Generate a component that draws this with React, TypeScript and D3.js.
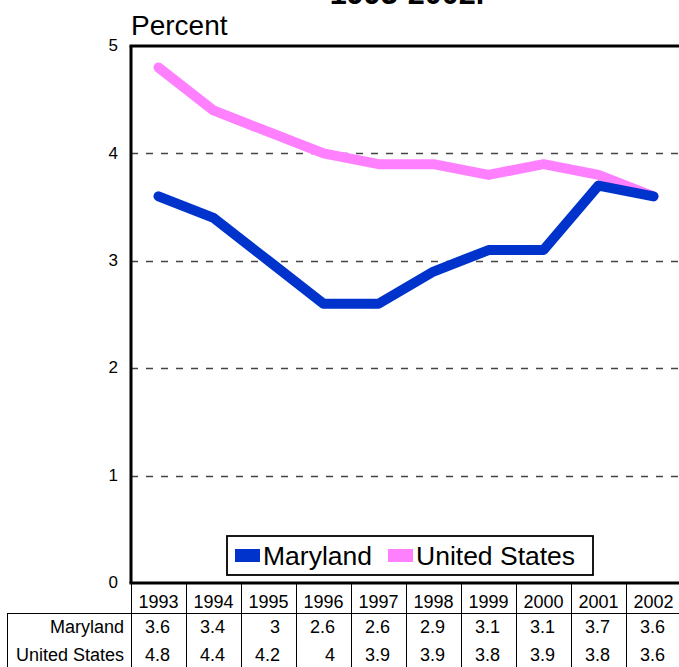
import React from "react";
import * as d3 from "d3";

const years = ["1993", "1994", "1995", "1996", "1997", "1998", "1999", "2000", "2001", "2002"];
const maryland = [3.6, 3.4, 3, 2.6, 2.6, 2.9, 3.1, 3.1, 3.7, 3.6];
const unitedStates = [4.8, 4.4, 4.2, 4, 3.9, 3.9, 3.8, 3.9, 3.8, 3.6];
const yTicks = [0, 1, 2, 3, 4, 5];
const gridTicks = [1, 2, 3, 4];

const W = 679;
const H = 667;
const plotL = 131;
const plotR = 681;
const plotT = 46;
const plotB = 583;
const FONT = "Liberation Sans, Arial, sans-serif";

export default function App() {
  const x = d3.scaleBand<string>().domain(years).range([plotL, plotR]).padding(0);
  const y = d3.scaleLinear().domain([0, 5]).range([plotB, plotT]);
  const cx = (i: number) => (x(years[i]) as number) + x.bandwidth() / 2;
  const line = d3
    .line<number>()
    .x((_, i) => cx(i))
    .y((d) => y(d));

  const series = [
    { name: "United States", values: unitedStates, color: "#FF80FF" },
    { name: "Maryland", values: maryland, color: "#0033CC" },
  ];

  const headerY = 608;
  const rowLine = 613;
  const rowBase = [633, 661];
  const rows = [
    { name: "Maryland", values: maryland },
    { name: "United States", values: unitedStates },
  ];

  return (
    <svg
      width={W}
      height={H}
      style={{ position: "absolute", left: 0, top: 0, background: "#fff" }}
      fontFamily={FONT}
    >
      <rect x={0} y={0} width={W} height={H} fill="#fff" />
      {/* title (cut off at top, as in the reference) */}
      <text x={407} y={4} textAnchor="middle" fontSize={30.5} fontWeight="bold" fill="#000">
        1993-2002.
      </text>
      <text x={131} y={35} fontSize={28} fill="#000">
        Percent
      </text>

      {/* grid */}
      {gridTicks.map((t) => (
        <line
          key={t}
          x1={plotL}
          x2={plotR}
          y1={Math.round(y(t)) + 0.5}
          y2={Math.round(y(t)) + 0.5}
          stroke="#444"
          strokeWidth={1.3}
          strokeDasharray="7,8"
        />
      ))}

      {/* y tick labels */}
      {yTicks.map((t) => (
        <text
          key={t}
          x={118}
          y={y(t)}
          dy="0.3em"
          textAnchor="end"
          fontSize={17}
          fill="#000"
        >
          {t}
        </text>
      ))}

      {/* lines */}
      {series.map((s) => (
        <path
          key={s.name}
          d={line(s.values) as string}
          fill="none"
          stroke={s.color}
          strokeWidth={10}
          strokeLinecap="round"
          strokeLinejoin="round"
        />
      ))}

      {/* plot frame */}
      <line x1={plotL - 1.5} x2={plotR} y1={plotT} y2={plotT} stroke="#000" strokeWidth={3} />
      <line x1={plotL - 1.5} x2={plotR} y1={plotB} y2={plotB} stroke="#000" strokeWidth={3} />
      <line x1={plotL} x2={plotL} y1={plotT} y2={plotB} stroke="#000" strokeWidth={3} />

      {/* legend */}
      <rect x={227} y={536} width={366} height={39} fill="#fff" stroke="#000" strokeWidth={1.8} />
      <rect x={235} y={549} width={25} height={13} fill="#0033CC" />
      <text x={263} y={565} fontSize={26.5} fill="#000">
        Maryland
      </text>
      <rect x={388} y={549} width={25} height={13} fill="#FF80FF" />
      <text x={416} y={565} fontSize={26.5} fill="#000">
        United States
      </text>

      {/* data table */}
      {years.map((yr) => (
        <line
          key={"v" + yr}
          x1={(x(yr) as number) + 0.5}
          x2={(x(yr) as number) + 0.5}
          y1={plotB}
          y2={H}
          stroke="#000"
          strokeWidth={1}
        />
      ))}
      <line x1={7.5} x2={7.5} y1={rowLine} y2={H} stroke="#000" strokeWidth={1} />
      <line x1={7} x2={plotR} y1={rowLine + 0.5} y2={rowLine + 0.5} stroke="#000" strokeWidth={1} />
      {years.map((yr, i) => (
        <text key={"h" + yr} x={cx(i)} y={headerY} textAnchor="middle" fontSize={18} fill="#000">
          {yr}
        </text>
      ))}
      {rows.map((r, ri) => (
        <g key={r.name}>
          <text x={124} y={rowBase[ri]} textAnchor="end" fontSize={18} fill="#000">
            {r.name}
          </text>
          {r.values.map((v, i) => (
            <text
              key={i}
              x={(x(years[i]) as number) + x.bandwidth() - 16}
              y={rowBase[ri]}
              textAnchor="end"
              fontSize={18}
              fill="#000"
            >
              {String(v)}
            </text>
          ))}
        </g>
      ))}
    </svg>
  );
}
